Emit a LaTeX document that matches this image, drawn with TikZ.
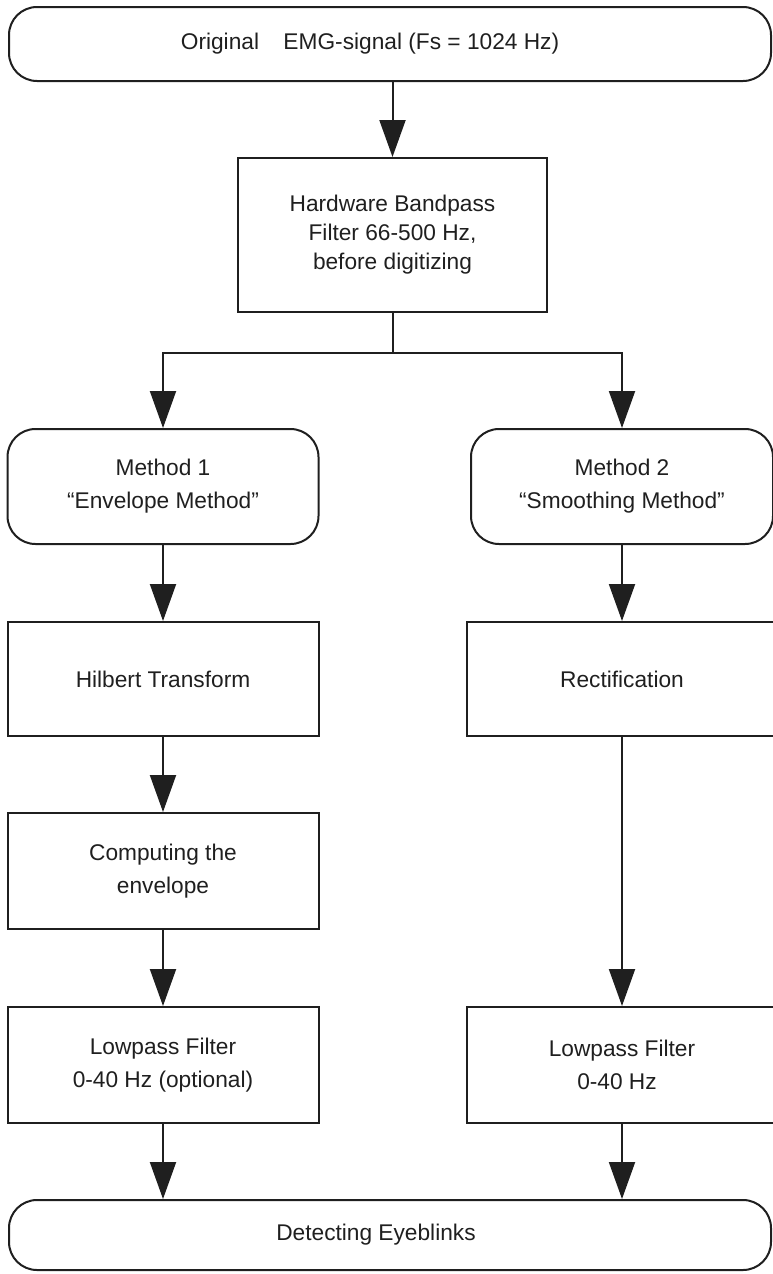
\documentclass[tikz,border=0pt]{standalone}
\usepackage{fontspec}
\setmainfont{Liberation Sans}
\usetikzlibrary{arrows.meta}
\tikzset{
  >={Triangle[length=37pt,width=26pt]},
  stage/.style={draw,line width=2pt,inner sep=0pt,align=center,
    minimum width=311pt,minimum height=115pt,
    font=\fontsize{22.7}{33}\selectfont},
  term/.style={stage,rounded corners=28pt}
}

\begin{document}
\begin{tikzpicture}[x=1pt,y=-1pt,line width=2pt,color={black!88}]
  \useasboundingbox (0,0) rectangle (773,1274);
  \clip (0,0) rectangle (773,1274);
  \node[term,minimum width=762pt,minimum height=74pt] (sig) at (390,44)
    {Original\hspace{0.8em} EMG-signal (Fs = 1024 Hz)\hspace*{40pt}};
  \node[stage,minimum width=309pt,minimum height=154pt,
    font=\fontsize{22.7}{29}\selectfont] (hw) at (392.5,235)
    {Hardware Bandpass\\Filter 66-500 Hz,\\before digitizing};
  \node[term] (m1) at (163,486.5) {Method 1\\“Envelope Method”};
  \node[term,minimum width=302pt] (m2) at (622,486.5) {Method 2\\“Smoothing Method”};
  \node[stage,minimum height=114pt] (hil) at (163,679) {Hilbert Transform};
  \node[stage,minimum height=114pt] (rect) at (622,679) {Rectification};
  \node[stage,minimum height=116pt] (env) at (163,871) {Computing the\\envelope};
  \node[stage,minimum height=116pt] (lp1) at (163,1065) {Lowpass Filter\\0-40 Hz (optional)};
  \node[stage,minimum height=116pt] (lp2) at (622,1065) {Lowpass Filter\\0-40 Hz\hspace*{10pt}};
  \node[term,minimum width=762pt,minimum height=70pt] (out) at (390,1235)
    {Detecting Eyeblinks\hspace*{28pt}};
  \draw[->] (sig.south -| hw.north) -- (hw.north);
  \draw[->] (hw.south) -- ++(0,40) -| (m1.north);
  \draw[->] (hw.south) -- ++(0,40) -| (m2.north);
  \draw[->] (m1) -- (hil);
  \draw[->] (hil) -- (env);
  \draw[->] (env) -- (lp1);
  \draw[->] (m2) -- (rect);
  \draw[->] (rect) -- (lp2);
  \draw[->] (lp1.south) -- (lp1.south |- out.north);
  \draw[->] (lp2.south) -- (lp2.south |- out.north);
\end{tikzpicture}
\end{document}
